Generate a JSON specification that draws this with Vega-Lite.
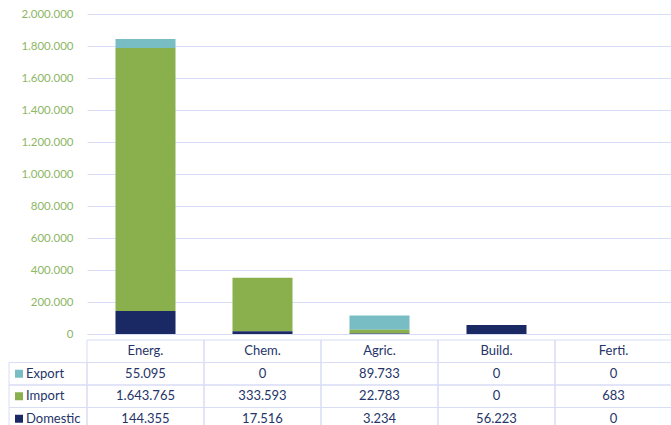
{
  "$schema": "https://vega.github.io/schema/vega-lite/v6.json",
  "padding": {"left": 8, "top": 8, "right": 0, "bottom": 0},
  "spacing": -6,
  "datasets": {
    "d": [
      {"category": "Energ.", "series": "Export", "value": 55095},
      {"category": "Energ.", "series": "Import", "value": 1643765},
      {"category": "Energ.", "series": "Domestic", "value": 144355},
      {"category": "Chem.", "series": "Export", "value": 0},
      {"category": "Chem.", "series": "Import", "value": 333593},
      {"category": "Chem.", "series": "Domestic", "value": 17516},
      {"category": "Agric.", "series": "Export", "value": 89733},
      {"category": "Agric.", "series": "Import", "value": 22783},
      {"category": "Agric.", "series": "Domestic", "value": 3234},
      {"category": "Build.", "series": "Export", "value": 0},
      {"category": "Build.", "series": "Import", "value": 0},
      {"category": "Build.", "series": "Domestic", "value": 56223},
      {"category": "Ferti.", "series": "Export", "value": 0},
      {"category": "Ferti.", "series": "Import", "value": 683},
      {"category": "Ferti.", "series": "Domestic", "value": 0}
    ]
  },
  "vconcat": [
    {
      "width": 585,
      "height": 320,
      "data": {"name": "d"},
      "transform": [{"calculate": "indexof(['Domestic','Import','Export'], datum.series)", "as": "stackOrder"}],
      "mark": {"type": "bar"},
      "encoding": {
        "x": {
          "field": "category", "type": "nominal",
          "sort": ["Energ.", "Chem.", "Agric.", "Build.", "Ferti."],
          "scale": {"paddingInner": 0.487, "paddingOuter": 0.2435},
          "axis": {"labels": false, "ticks": false, "title": null, "domainColor": "#D9DCF5", "grid": false, "labelPadding": 0, "minExtent": 0, "maxExtent": 0}
        },
        "y": {
          "field": "value", "type": "quantitative", "stack": "zero",
          "scale": {"domain": [0, 2000000], "nice": false},
          "axis": {"title": null, "tickCount": 10, "format": ",d", "labelColor": "#8DB665", "labelFont": "Lato", "labelFontSize": 11.5, "ticks": false, "domain": false, "gridColor": "#D9DCF5", "gridOpacity": 1, "labelPadding": 14, "minExtent": 78}
        },
        "color": {
          "field": "series", "type": "nominal",
          "scale": {"domain": ["Domestic", "Import", "Export"], "range": ["#1A2864", "#8AB04E", "#78BDC4"]},
          "legend": null
        },
        "order": {"field": "stackOrder", "type": "quantitative", "sort": "ascending"}
      }
    },
    {
      "width": 585,
      "height": 90,
      "data": {"name": "d"},
      "resolve": {"scale": {"x": "independent"}},
      "layer": [
        {
          "layer": [
            {
              "mark": {"type": "rect", "fill": "#ffffff", "fillOpacity": 0, "stroke": "#D9DCF5", "strokeWidth": 1},
              "encoding": {
                "x": {"field": "category", "type": "nominal", "sort": ["Energ.", "Chem.", "Agric.", "Build.", "Ferti."], "scale": {"type": "band", "paddingInner": 0, "paddingOuter": 0}, "axis": null},
                "y": {"field": "series", "type": "nominal", "scale": {"type": "band", "domain": [" ", "Export", "Import", "Domestic"], "paddingInner": 0, "paddingOuter": 0}, "axis": null}
              }
            },
            {
              "transform": [{"filter": "datum.series == 'Export'"}],
              "mark": {"type": "rect", "fill": "#ffffff", "fillOpacity": 0, "stroke": "#D9DCF5", "strokeWidth": 1},
              "encoding": {
                "x": {"field": "category", "type": "nominal", "sort": ["Energ.", "Chem.", "Agric.", "Build.", "Ferti."]},
                "y": {"datum": " ", "type": "nominal"}
              }
            },
            {
              "mark": {"type": "text", "align": "center", "baseline": "middle", "font": "Lato", "fontSize": 13, "color": "#253468"},
              "encoding": {
                "x": {"field": "category", "type": "nominal", "sort": ["Energ.", "Chem.", "Agric.", "Build.", "Ferti."]},
                "y": {"field": "series", "type": "nominal"},
                "text": {"field": "value", "type": "quantitative", "format": ",d"}
              }
            },
            {
              "transform": [{"filter": "datum.series == 'Export'"}],
              "mark": {"type": "text", "align": "center", "baseline": "middle", "font": "Lato", "fontSize": 13, "color": "#253468"},
              "encoding": {
                "x": {"field": "category", "type": "nominal", "sort": ["Energ.", "Chem.", "Agric.", "Build.", "Ferti."]},
                "y": {"datum": " ", "type": "nominal"},
                "text": {"field": "category"}
              }
            }
          ]
        },
        {
          "transform": [{"filter": "datum.category == 'Energ.'"}],
          "layer": [
            {
              "mark": {"type": "rect", "fill": "#ffffff", "fillOpacity": 0, "stroke": "#D9DCF5", "strokeWidth": 1},
              "encoding": {
                "x": {"datum": 0, "type": "quantitative", "scale": {"domain": [0, 1], "range": [-78, 0], "nice": false, "zero": false}, "axis": null},
                "x2": {"datum": 1},
                "y": {"field": "series", "type": "nominal"}
              }
            },
            {
              "mark": {"type": "square", "size": 64, "filled": true, "opacity": 1},
              "encoding": {
                "x": {"datum": 0.128, "type": "quantitative"},
                "y": {"field": "series", "type": "nominal"},
                "color": {"field": "series", "type": "nominal", "scale": {"domain": ["Domestic", "Import", "Export"], "range": ["#1A2864", "#8AB04E", "#78BDC4"]}, "legend": null}
              }
            },
            {
              "mark": {"type": "text", "align": "left", "baseline": "middle", "font": "Lato", "fontSize": 13, "color": "#253468"},
              "encoding": {
                "x": {"datum": 0.218, "type": "quantitative"},
                "y": {"field": "series", "type": "nominal"},
                "text": {"field": "series"}
              }
            }
          ]
        }
      ]
    }
  ],
  "resolve": {"scale": {"x": "independent", "y": "independent", "color": "independent"}},
  "config": {
    "view": {"stroke": null},
    "font": "Lato",
    "locale": {"number": {"decimal": ",", "thousands": ".", "grouping": [3], "currency": ["", " €"]}}
  }
}
